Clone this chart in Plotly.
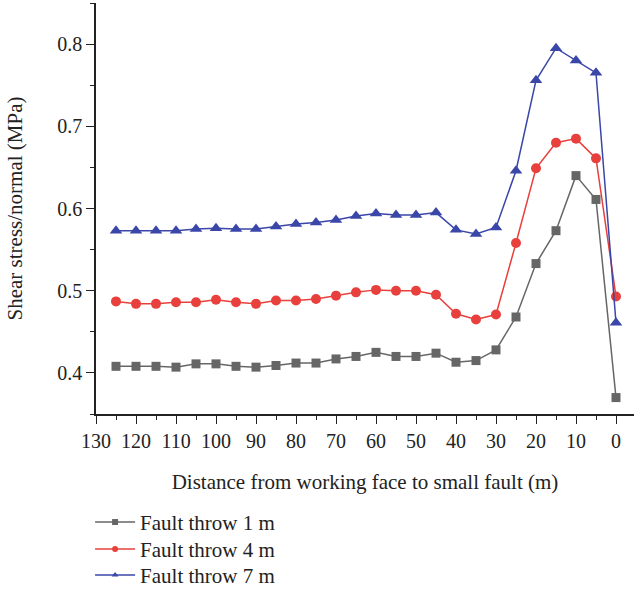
import plotly.graph_objects as go

distance = [125, 120, 115, 110, 105, 100, 95, 90, 85, 80, 75, 70, 65, 60, 55, 50, 45, 40, 35, 30, 25, 20, 15, 10, 5, 0]
throw_1m = [0.408, 0.408, 0.408, 0.407, 0.411, 0.411, 0.408, 0.407, 0.409, 0.412, 0.412, 0.417, 0.420, 0.425, 0.420, 0.420, 0.424, 0.413, 0.415, 0.428, 0.468, 0.533, 0.573, 0.640, 0.611, 0.370]
throw_4m = [0.487, 0.484, 0.484, 0.486, 0.486, 0.489, 0.486, 0.484, 0.488, 0.488, 0.490, 0.494, 0.498, 0.501, 0.500, 0.500, 0.495, 0.472, 0.465, 0.471, 0.558, 0.649, 0.680, 0.685, 0.661, 0.493]
throw_7m = [0.573, 0.573, 0.573, 0.573, 0.575, 0.576, 0.575, 0.575, 0.578, 0.581, 0.583, 0.586, 0.591, 0.594, 0.592, 0.592, 0.595, 0.574, 0.569, 0.577, 0.646, 0.756, 0.795, 0.780, 0.765, 0.461]

names = ["Fault throw 1 m", "Fault throw 4 m", "Fault throw 7 m"]
colors = ["#666666", "#e8403c", "#3a46a8"]
symbols = ["square", "circle", "triangle-up"]
sizes = [9, 10, 11]
series = [throw_1m, throw_4m, throw_7m]
legend_ids = ["legend", "legend2", "legend3"]
legend_y = [-0.2637, -0.3294, -0.3927]

FONT = "Liberation Serif"

fig = go.Figure()
for name, ys, c, s, sz in zip(names, series, colors, symbols, sizes):
    fig.add_trace(go.Scatter(x=distance, y=ys, mode="lines+markers", name=name,
                             line=dict(color=c, width=1.5),
                             marker=dict(symbol=s, size=sz, color=c),
                             showlegend=False))
for name, c, s, lid in zip(names, colors, symbols, legend_ids):
    fig.add_trace(go.Scatter(x=[None], y=[None], mode="lines+markers", name=name,
                             line=dict(color=c, width=1.5),
                             marker=dict(symbol=s, size=6, color=c),
                             showlegend=True, legend=lid))

axis_common = dict(showline=True, linecolor="#222222", linewidth=1.5, ticks="outside",
                   tickcolor="#222222", tickwidth=1.2, ticklen=8, showgrid=False, zeroline=False,
                   tickfont=dict(family=FONT, size=20, color="#222222"),
                   mirror=False, automargin=False)

legend_common = dict(x=-0.011, xanchor="left", yanchor="middle", bgcolor="rgba(0,0,0,0)",
                     font=dict(family=FONT, size=21, color="#222222"), itemwidth=40)

fig.update_layout(
    width=634, height=591,
    margin=dict(l=96, r=0, t=3, b=177.3, autoexpand=False),
    paper_bgcolor="white", plot_bgcolor="white",
    font=dict(family=FONT, size=20, color="#222222"),
    xaxis=dict(range=[130, -4.5], tickmode="array", tickvals=list(range(130, -1, -10)),
               minor=dict(ticks="outside", ticklen=4, tickcolor="#222222", dtick=5, tick0=0),
               title=dict(text="Distance from working face to small fault (m)",
                          font=dict(family=FONT, size=21), standoff=24),
               ticklabelstandoff=0, **axis_common),
    yaxis=dict(range=[0.35, 0.85], tickvals=[0.4, 0.5, 0.6, 0.7, 0.8],
               minor=dict(ticks="outside", ticklen=4, tickcolor="#222222", dtick=0.05, tick0=0.35),
               title=dict(text="Shear stress/normal (MPa)", font=dict(family=FONT, size=21), standoff=29),
               ticklabelstandoff=0, **axis_common),
    legend=dict(y=legend_y[0], **legend_common),
    legend2=dict(y=legend_y[1], **legend_common),
    legend3=dict(y=legend_y[2], **legend_common),
)

fig.write_html("out.html")
